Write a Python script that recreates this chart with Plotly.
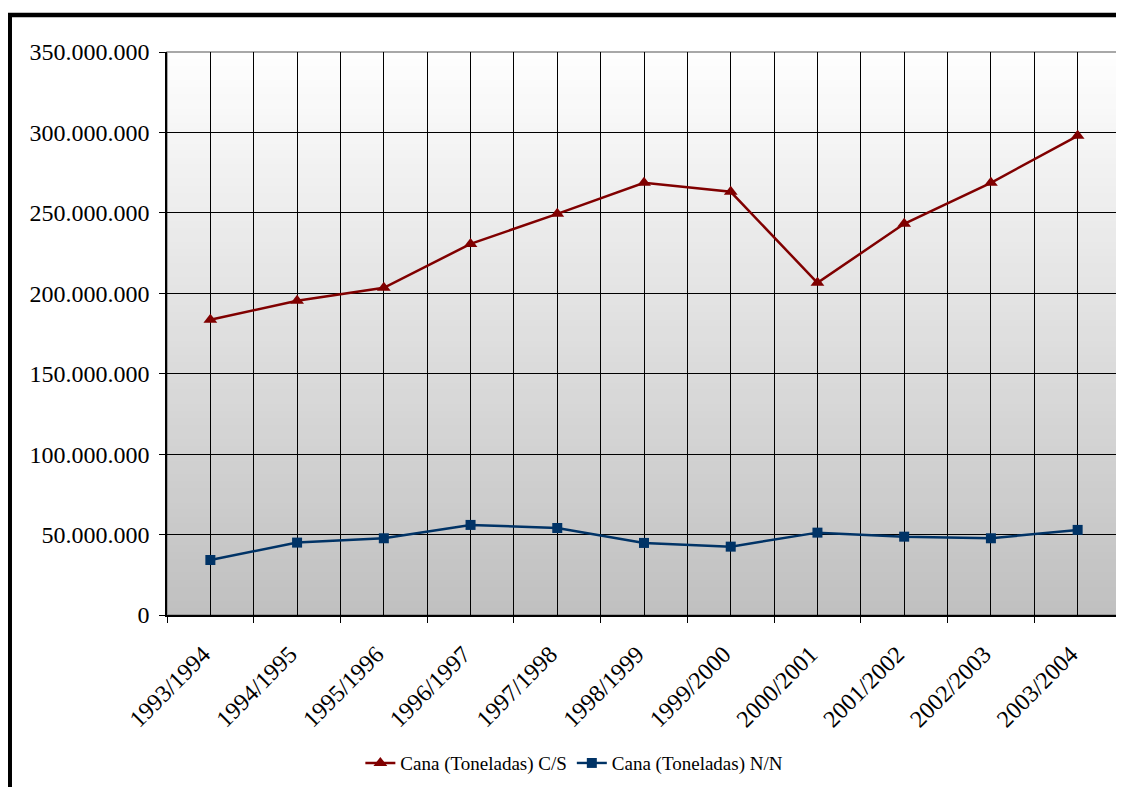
import plotly.graph_objects as go

seasons = ["1993/1994", "1994/1995", "1995/1996", "1996/1997", "1997/1998", "1998/1999",
           "1999/2000", "2000/2001", "2001/2002", "2002/2003", "2003/2004"]
cana_cs = [183.5e6, 195.3e6, 203.4e6, 230.7e6, 249.4e6, 268.7e6,
           263.1e6, 206.5e6, 243.2e6, 268.7e6, 297.9e6]
cana_nn = [34.2e6, 45.0e6, 47.7e6, 56.0e6, 54.1e6, 44.8e6,
           42.5e6, 51.2e6, 48.7e6, 47.7e6, 52.9e6]

x_pos = list(range(len(seasons)))
font_name = "Liberation Serif"

fig = go.Figure()
fig.add_trace(go.Scatter(x=x_pos, y=cana_cs, name="Cana (Toneladas) C/S",
                         mode="lines+markers",
                         line=dict(color="#800000", width=2.5),
                         marker=dict(symbol="triangle-up", size=12, color="#800000")))
fig.add_trace(go.Scatter(x=x_pos, y=cana_nn, name="Cana (Toneladas) N/N",
                         mode="lines+markers",
                         line=dict(color="#003366", width=2.5),
                         marker=dict(symbol="square", size=10, color="#003366")))

# gradient plot background (white at top to grey at bottom)
shapes = []
n_bands = 80
for i in range(n_bands):
    t = i / (n_bands - 1)
    c = int(round(0xC0 + (0xFE - 0xC0) * t))
    shapes.append(dict(type="rect", xref="x domain", yref="y domain",
                       x0=0, x1=1, y0=i / n_bands, y1=(i + 1) / n_bands + 0.002,
                       fillcolor=f"rgb({c},{c},{c})", line=dict(width=0), layer="below"))
# grey frame around plot area
shapes.append(dict(type="rect", xref="x domain", yref="y domain", x0=0, x1=1, y0=0, y1=1,
                   line=dict(color="#8C8C8C", width=1.5), layer="below"))
# black page border, top and left
shapes.append(dict(type="line", xref="paper", yref="paper", x0=-0.1667, x1=1.02,
                   y0=1.0657, y1=1.0657, line=dict(color="black", width=4.5)))
shapes.append(dict(type="line", xref="paper", yref="paper", x0=-0.1651, x1=-0.1651,
                   y0=1.069, y1=-0.33, line=dict(color="black", width=5)))

fig.update_xaxes(range=[-0.5, len(seasons) - 0.5],
                 tickmode="array", tickvals=x_pos, ticktext=seasons,
                 tickangle=-45, ticks="", showgrid=True, gridcolor="black", gridwidth=1,
                 showline=True, linecolor="black", linewidth=1.5,
                 minor=dict(tick0=0.5, dtick=1, ticks="outside", ticklen=6, tickcolor="black",
                            showgrid=True, gridcolor="black", gridwidth=1),
                 tickfont=dict(family=font_name, size=24, color="black"),
                 ticklabelstandoff=14, ticklabelshift=-7,
                 zeroline=False)
fig.update_yaxes(range=[0, 350e6], dtick=50e6, tickformat=",",
                 ticks="outside", ticklen=6, tickcolor="black",
                 showgrid=True, gridcolor="black", gridwidth=1,
                 showline=True, linecolor="black", linewidth=1.5,
                 tickfont=dict(family=font_name, size=24, color="black"),
                 ticklabelstandoff=5,
                 zeroline=False)

# the page body adds an 8px offset, so margins are shifted accordingly
fig.update_layout(width=1124, height=787,
                  margin=dict(l=159, r=11, t=44, b=180, autoexpand=False),
                  separators=",.",
                  paper_bgcolor="white", plot_bgcolor="white",
                  shapes=shapes,
                  showlegend=True,
                  legend=dict(orientation="h", x=0.427, xanchor="center", y=-0.263, yanchor="middle",
                              font=dict(family=font_name, size=19, color="black"),
                              itemwidth=30, tracegroupgap=0))

fig.write_html("out.html")
